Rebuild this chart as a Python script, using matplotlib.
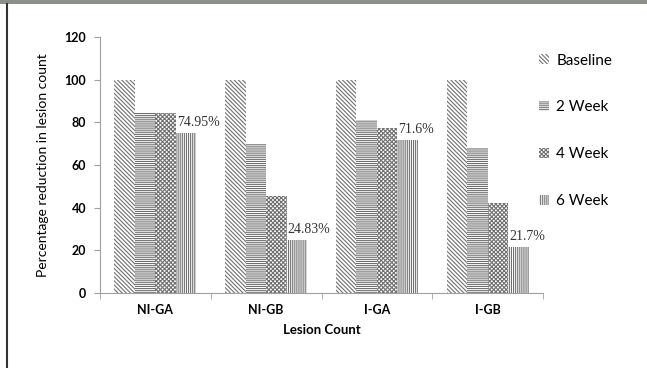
import matplotlib.pyplot as plt
import numpy as np
from matplotlib.patches import Patch, Rectangle
from matplotlib.lines import Line2D

# lesion count data, percent of baseline
groups = ['NI-GA', 'NI-GB', 'I-GA', 'I-GB']
series = ['Baseline', '2 Week', '4 Week', '6 Week']
baseline = [100, 100, 100, 100]
week2 = [85.0, 69.7, 81.1, 67.8]
week4 = [84.3, 45.6, 77.5, 42.3]
week6 = [74.95, 24.83, 71.6, 21.7]
end_labels = ['74.95%', '24.83%', '71.6%', '21.7%']

plt.rcParams['font.family'] = ['Lato', 'DejaVu Sans']
plt.rcParams['hatch.color'] = '#707070'
plt.rcParams['hatch.linewidth'] = 0.8

fig = plt.figure(figsize=(6.47, 3.68), dpi=100)
ax = fig.add_axes([0.1546, 0.2038, 0.6847, 0.6957])

hatches = ['\\' * 8, '-' * 8, 'x' * 8, '|' * 8]
values = [baseline, week2, week4, week6]
x = np.arange(len(groups))
w = 0.185
for i, (vals, h) in enumerate(zip(values, hatches)):
    ax.bar(x + (i - 1.5) * w, vals, w, color='white', hatch=h,
           edgecolor='#707070', linewidth=0, label=series[i])

# percentage labels above the 6 week bars
for xi, v, lab in zip(x, week6, end_labels):
    ax.annotate(lab, (xi + w + 0.01, v), xytext=(0, 3),
                textcoords='offset points', ha='left', va='bottom',
                fontsize=10, family='Liberation Serif', color='#333333')

ax.set_xlim(-0.5, 3.5)
ax.set_ylim(0, 120)
ax.set_yticks(range(0, 121, 20))
ax.set_xticks(x)
ax.set_xticklabels(groups, fontsize=9, fontweight='bold')
ax.set_xticks(np.arange(-0.5, 3.6, 1), minor=True)
ax.tick_params(axis='x', which='major', length=0, pad=8)
ax.tick_params(axis='x', which='minor', length=4, color='#a0a0a0')
ax.tick_params(axis='y', length=4, color='#a0a0a0', pad=6)
for t in ax.get_yticklabels():
    t.set_fontweight('bold')
    t.set_fontsize(9)

for s in ['top', 'right']:
    ax.spines[s].set_visible(False)
for s in ['left', 'bottom']:
    ax.spines[s].set_color('#a0a0a0')

ax.set_xlabel('Lesion Count', fontsize=9.5, fontweight='bold', labelpad=6)
ax.set_ylabel('Percentage reduction in lesion count', fontsize=10, labelpad=11)

handles = [Patch(facecolor='white', hatch=h, edgecolor='#707070', linewidth=0)
           for h in hatches]
fig.legend(handles, series, loc='upper left', bbox_to_anchor=(0.822, 0.875),
           frameon=False, fontsize=11, handlelength=0.6, handleheight=0.6,
           handletextpad=0.5, labelspacing=2.15, borderpad=0)

# panel frame: grey strip along the top and dark rule on the left
fig.patches.append(Rectangle((0, 1 - 4 / 368), 1, 4 / 368, transform=fig.transFigure,
                             facecolor='#8c908c', edgecolor='none'))
fig.lines.append(Line2D([7 / 647, 7 / 647], [0, 1 - 4 / 368], transform=fig.transFigure,
                        color='#333333', linewidth=1.5))

fig.savefig('out.png', dpi=100)
